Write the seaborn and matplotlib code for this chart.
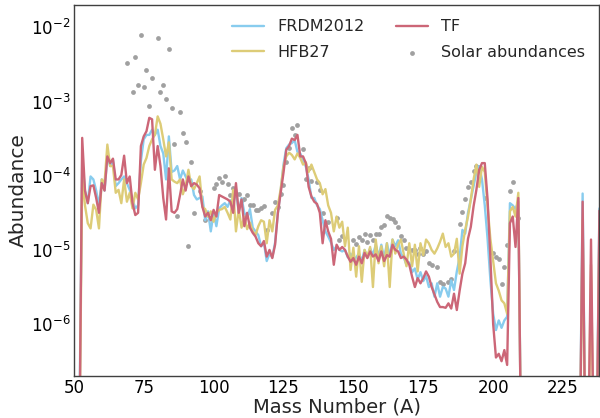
import numpy as np
import pandas as pd
import seaborn as sns
import matplotlib
matplotlib.use("Agg")
import matplotlib.pyplot as plt
from matplotlib.ticker import MultipleLocator, LogLocator

# mass numbers 50..238
mass = np.arange(50, 239)

# log10 abundances (values far below the axis = ~zero)
frdm_log = [
    -7.7, -7.7, -7.3, -3.78, -4.20, -4.37, -4.01, -4.05, -4.20, -4.41,   # 50
    -4.05, -4.20, -3.74, -3.87, -3.78, -4.14, -4.10, -4.05, -4.01, -4.10,  # 60
    -4.19, -4.32, -4.44, -4.40, -3.80, -3.51, -3.45, -3.45, -3.38, -3.45,  # 70
    -3.38, -3.60, -3.70, -4.05, -3.47, -3.95, -3.93, -3.87, -4.05, -3.93,  # 80
    -4.01, -4.08, -4.05, -4.26, -4.32, -4.30, -4.28, -4.60, -4.48, -4.75,  # 90
    -4.50, -4.68, -4.44, -4.40, -4.37, -4.42, -4.33, -4.40, -4.18, -4.50,  # 100
    -4.30, -4.50, -4.57, -4.45, -4.70, -4.75, -4.80, -4.95, -4.90, -5.15,  # 110
    -5.05, -5.10, -4.90, -4.50, -4.20, -3.85, -3.63, -3.58, -3.56, -3.52,  # 120
    -3.68, -3.70, -3.78, -3.88, -4.05, -4.30, -4.30, -4.40, -4.45, -4.60,  # 130
    -4.75, -4.82, -4.90, -5.00, -4.95, -5.00, -5.02, -5.00, -5.10, -5.05,  # 140
    -5.15, -5.10, -5.05, -5.15, -5.00, -5.10, -4.98, -5.07, -4.93, -5.09,  # 150
    -4.93, -5.11, -4.91, -5.09, -4.86, -4.95, -4.87, -5.05, -5.10, -5.20,  # 160
    -5.17, -5.30, -5.25, -5.40, -5.30, -5.42, -5.35, -5.50, -5.45, -5.63,  # 170
    -5.45, -5.63, -5.50, -5.52, -5.63, -5.41, -5.54, -5.29, -5.10, -4.73,  # 180
    -4.78, -4.50, -4.32, -4.14, -3.95, -3.87, -4.05, -4.40, -4.85, -5.40,  # 190
    -5.86, -6.08, -5.95, -6.05, -5.95, -5.90, -4.37, -4.40, -4.45, -4.35,  # 200
    -7.7, -7.7, -7.7, -7.7, -7.7, -7.7, -7.7, -7.7, -7.7, -7.7,            # 210
    -7.7, -7.7, -7.7, -7.7, -7.7, -7.7, -7.7, -7.7, -7.7, -7.7,            # 220
    -7.7, -7.7, -4.24, -7.7, -7.7, -7.7, -7.7, -7.7, -4.44,                # 230
]

hfb_log = [
    -7.8, -7.8, -7.7, -4.01, -4.40, -4.64, -4.71, -4.39, -4.46, -4.71,
    -4.05, -4.10, -3.58, -3.87, -3.87, -4.23, -4.19, -4.37, -4.05, -4.35,
    -4.23, -4.44, -4.23, -4.32, -4.10, -3.85, -3.76, -3.60, -3.51, -3.45,
    -3.20, -3.30, -3.51, -3.74, -3.55, -4.05, -4.08, -4.10, -4.05, -4.25,
    -4.14, -3.92, -4.14, -4.18, -4.10, -4.01, -4.42, -4.45, -4.55, -4.48,
    -4.62, -4.50, -4.46, -4.45, -4.42, -4.50, -4.59, -4.19, -4.75, -4.45,
    -4.70, -4.55, -4.72, -4.63, -4.75, -4.80, -4.68, -4.60, -4.62, -4.91,
    -4.60, -4.75, -4.46, -4.40, -4.18, -3.88, -3.74, -3.69, -3.72, -3.78,
    -3.70, -3.76, -3.85, -3.82, -3.95, -3.85, -3.95, -4.05, -4.10, -4.25,
    -4.18, -4.40, -4.50, -4.75, -4.55, -4.70, -4.62, -4.95, -4.70, -5.27,
    -4.97, -5.36, -4.95, -5.43, -5.00, -5.09, -4.96, -5.50, -4.86, -5.18,
    -4.95, -5.22, -4.91, -5.50, -4.86, -5.05, -4.93, -4.86, -5.05, -5.22,
    -4.91, -5.22, -4.93, -5.29, -4.91, -5.07, -4.86, -4.91, -5.00, -5.05,
    -4.98, -4.89, -4.78, -4.96, -4.91, -5.09, -5.05, -4.85, -5.32, -4.95,
    -4.73, -4.55, -4.32, -4.05, -3.85, -4.15, -3.88, -3.95, -4.41, -4.85,
    -5.15, -5.45, -5.55, -5.68, -5.72, -5.86, -4.48, -4.42, -4.55, -4.23,
    -7.8, -7.8, -7.8, -7.8, -7.8, -7.8, -7.8, -7.8, -7.8, -7.8,
    -7.8, -7.8, -7.8, -7.8, -7.8, -7.8, -7.8, -7.8, -7.8, -7.8,
    -7.8, -7.8, -4.60, -7.8, -7.8, -5.20, -7.8, -7.8, -4.70,
]

tf_log = [
    -7.8, -7.8, -7.7, -3.49, -4.20, -4.37, -4.14, -4.13, -4.30, -4.50,
    -4.10, -4.20, -3.74, -3.83, -3.77, -4.05, -4.05, -3.99, -3.73, -4.10,
    -4.01, -4.37, -4.53, -4.50, -3.60, -3.47, -3.40, -3.22, -3.24, -3.92,
    -3.60, -3.87, -4.30, -4.59, -3.90, -4.48, -4.50, -4.45, -4.26, -4.05,
    -4.20, -4.01, -4.14, -4.10, -4.12, -4.17, -4.42, -4.55, -4.50, -4.60,
    -4.46, -4.55, -4.26, -4.28, -4.30, -4.32, -4.35, -4.50, -4.10, -4.50,
    -4.32, -4.68, -4.50, -4.70, -4.77, -4.82, -4.91, -4.95, -4.88, -5.09,
    -5.00, -5.11, -4.93, -4.50, -4.23, -3.96, -3.65, -3.60, -3.50, -3.52,
    -3.45, -3.74, -3.74, -3.83, -4.15, -4.28, -4.35, -4.38, -4.50, -4.91,
    -4.60, -4.75, -4.85, -5.20, -4.93, -5.00, -4.96, -5.00, -5.09, -5.16,
    -5.11, -5.20, -5.09, -5.18, -5.04, -5.11, -5.02, -5.09, -5.06, -5.15,
    -5.02, -5.15, -5.07, -5.09, -4.93, -5.00, -5.02, -5.11, -5.09, -5.13,
    -5.20, -5.36, -5.50, -5.38, -5.45, -5.38, -5.29, -5.36, -5.50, -5.60,
    -5.70, -5.77, -5.77, -5.78, -5.72, -5.79, -5.59, -5.81, -5.55, -5.32,
    -5.18, -4.85, -4.69, -4.41, -4.19, -3.92, -3.83, -3.83, -4.32, -5.10,
    -6.00, -6.45, -6.40, -6.50, -6.35, -6.55, -4.64, -4.55, -4.96, -4.30,
    -7.8, -7.8, -7.8, -7.8, -7.8, -7.8, -7.8, -7.8, -7.8, -7.8,
    -7.8, -7.8, -7.8, -7.8, -7.8, -7.8, -7.8, -7.8, -7.8, -7.8,
    -7.8, -7.8, -4.35, -7.8, -7.8, -4.86, -7.8, -7.8, -4.47,
]

# solar r-process abundances (grey dots)
solar_mass = [
    69, 71, 72, 73, 74, 75, 76, 77, 78, 80, 81, 82, 83, 84, 85, 86, 87, 88,
    89, 90, 91, 92, 93, 95, 97, 100, 101, 102, 103, 104, 105, 106, 107, 108,
    109, 110, 111, 112, 113, 114, 115, 116, 117, 118, 119, 121, 122, 123, 124,
    125, 126, 127, 128, 129, 130, 132, 133, 134, 135, 137, 138, 139, 141, 144,
    145, 146, 150, 151, 152, 153, 154, 155, 156, 157, 158, 159, 160, 161, 162,
    163, 164, 165, 166, 167, 168, 169, 171, 172, 173, 174, 175, 176, 177, 178,
    180, 181, 182, 184, 185, 186, 188, 189, 190, 191, 192, 193, 194, 195, 197,
    200, 201, 202, 203, 204, 205, 206, 207, 209,
]
solar_log = [
    -2.48, -2.87, -2.40, -2.78, -2.10, -2.81, -2.58, -3.06, -2.68, -2.15,
    -2.87, -2.78, -2.96, -2.29, -3.09, -3.57, -4.54, -3.14, -3.42, -3.55,
    -4.95, -3.81, -4.50, -4.21, -4.60, -4.16, -4.11, -4.03, -4.09, -4.00,
    -4.11, -4.26, -4.17, -4.24, -4.25, -4.33, -4.32, -4.26, -4.40, -4.40,
    -4.46, -4.46, -4.43, -4.41, -4.73, -4.50, -4.36, -4.42, -4.24, -4.12,
    -3.82, -3.63, -3.36, -3.45, -3.32, -3.64, -4.05, -3.90, -4.07, -4.09,
    -4.19, -4.50, -4.63, -4.57, -4.86, -4.81, -4.87, -4.92, -4.82, -4.87,
    -4.78, -4.89, -4.80, -4.86, -4.78, -4.78, -4.69, -4.67, -4.54, -4.57,
    -4.58, -4.62, -4.69, -4.81, -4.86, -4.98, -5.00, -5.00, -5.05, -4.97,
    -5.05, -5.02, -5.17, -5.20, -5.23, -5.43, -5.46, -5.43, -5.39, -5.02,
    -4.65, -4.49, -4.32, -4.15, -4.08, -3.93, -3.87, -3.88, -4.30, -5.04,
    -5.10, -5.12, -5.46, -5.23, -4.93, -4.20, -4.09, -4.57,
]

df = pd.DataFrame({
    "A": mass,
    "FRDM2012": 10.0 ** np.array(frdm_log),
    "HFB27": 10.0 ** np.array(hfb_log),
    "TF": 10.0 ** np.array(tf_log),
})
solar_df = pd.DataFrame({"A": solar_mass, "Y": 10.0 ** np.array(solar_log)})

sns.set_style("white")
plt.rcParams["font.family"] = ["DejaVu Sans"]

fig = plt.figure(figsize=(6, 4.18), dpi=100)
ax = fig.add_axes([0.123, 0.1005, 0.876, 0.8876])

colors = {"FRDM2012": "#88CCEE", "HFB27": "#DDCC77", "TF": "#CC6677"}
for name in ["FRDM2012", "HFB27", "TF"]:
    sns.lineplot(data=df, x="A", y=name, ax=ax, color=colors[name],
                 linewidth=1.7, label=name)
sns.scatterplot(data=solar_df, x="A", y="Y", ax=ax, color="#a0a0a0",
                s=12, linewidth=0, label="Solar abundances")

ax.set_yscale("log")
ax.set_xlim(50, 238)
ax.set_ylim(2e-7, 2e-2)
ax.xaxis.set_major_locator(MultipleLocator(25))
ax.xaxis.set_minor_locator(MultipleLocator(5))
ax.yaxis.set_major_locator(LogLocator(base=10, numticks=12))
ax.yaxis.set_minor_locator(LogLocator(base=10, subs=np.arange(2, 10), numticks=12))
ax.tick_params(which="both", direction="in", labelsize=12, colors="0.25",
               labelcolor="black")
ax.tick_params(which="major", length=5, width=0.8, pad=2.5)
ax.tick_params(which="minor", length=2.5, width=0.6)
for sp in ax.spines.values():
    sp.set_color("0.25")
    sp.set_linewidth(1.0)

ax.set_xlabel("Mass Number (A)", fontsize=14, labelpad=0)
ax.set_ylabel("Abundance", fontsize=14.5, labelpad=2)
ax.legend(ncol=2, frameon=False, loc="upper right", fontsize=11.5,
          labelspacing=0.65)

fig.savefig("out.png", dpi=100)
